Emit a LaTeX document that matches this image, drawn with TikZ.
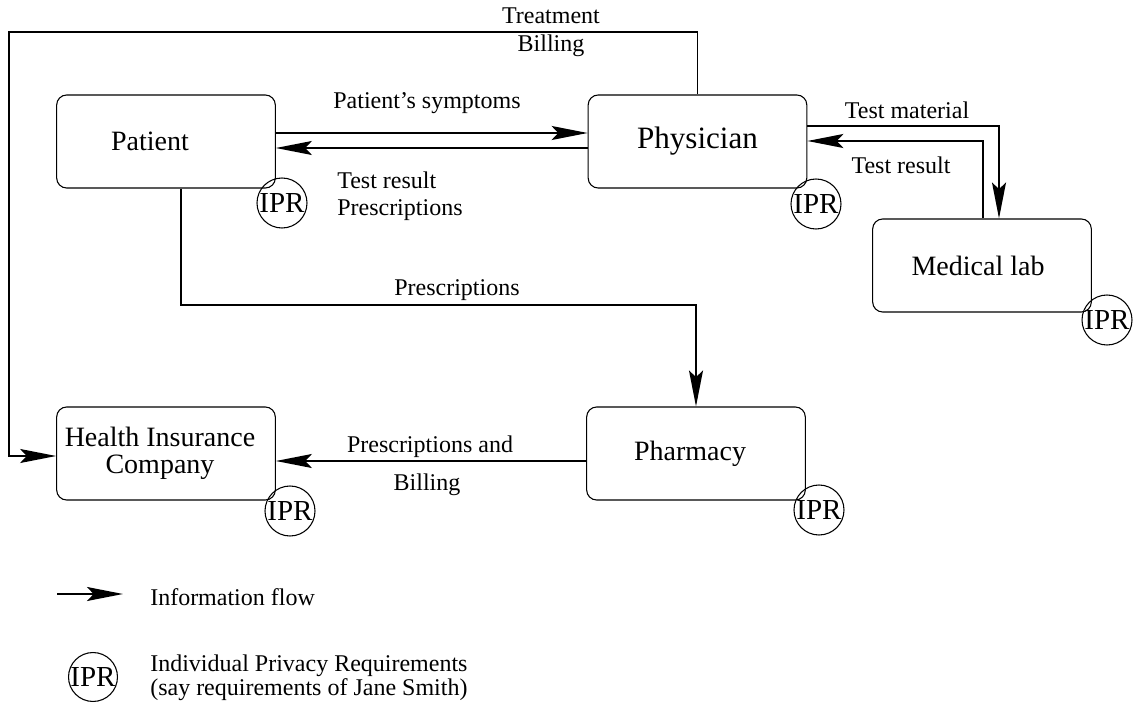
\documentclass[tikz,border=0pt]{standalone}
\usepackage{fontspec}
\setmainfont{Liberation Serif}
\usetikzlibrary{arrows.meta}
\tikzset{
  box/.style={draw, line width=0.8pt, rounded corners=7.5pt, minimum width=164pt, minimum height=69.75pt, inner sep=0pt, font=\fontsize{21}{20.25}\selectfont, align=center},
  flow/.style={line width=1.4pt, -{Stealth[length=27pt, width=10.5pt, inset=5pt]}},
  ipr/.style={draw, circle, line width=0.8pt, minimum size=37.5pt, inner sep=0pt, font=\fontsize{21.75}{22}\selectfont},
  lbl/.style={inner sep=0pt, font=\fontsize{18}{22.5}\selectfont},
}
\begin{document}
\begin{tikzpicture}[x=0.75pt, y=-0.75pt]
\useasboundingbox (0,0) rectangle (1135,709);
% boxes
\node[box] (patient) at (166,141.5) {Patient\hspace*{24pt}};
\node[box, font=\fontsize{23.3}{24}\selectfont] (physician) at (697.5,141.5) {Physician};
\node[box] (lab) at (982,265.5) {Medical lab\hspace*{6pt}};
\node[box] (insurance) at (166,453.5) {Health Insurance\hspace*{9pt}\\Company\hspace*{9pt}};
\node[box] (pharmacy) at (696,453.5) {Pharmacy\hspace*{9pt}};
% IPR circles
\node[ipr] (iprpatient) at (282,203) {IPR};
\node[ipr] (iprphysician) at (816,204) {IPR};
\node[ipr] (iprlab) at (1107,320) {IPR};
\node[ipr] (iprinsurance) at (290,511) {IPR};
\node[ipr] (iprpharmacy) at (819,510) {IPR};
% connectors
\draw[flow] (patient.east |- 0,133) -- (physician.west |- 0,133);
\draw[flow] (physician.west |- 0,148) -- (patient.east |- 0,148);
\draw[flow] (physician.north) |- (9,32) |- (insurance.west |- 0,456);
\draw[flow] (patient.south -| 181,0) |- (pharmacy.north |- 0,305) -- (pharmacy.north);
\draw[flow] (physician.east |- 0,126) -| (lab.north -| 999,0);
\draw[flow] (lab.north -| 983,0) |- (physician.east |- 0,141);
\draw[flow] (pharmacy.west |- 0,461) -- (insurance.east |- 0,461);
% labels
\node[lbl] (ltreat) at (551,16) {Treatment};
\node[lbl] (lbill) at (551,46) {Billing};
\node[lbl] (lsympt) at (427,103) {Patient's symptoms};
\node[lbl, anchor=west] (ltest) at (337,180) {Test result};
\node[lbl, anchor=west] (lpres) at (337,210) {Prescriptions};
\node[lbl] (lpres2) at (457,290) {Prescriptions};
\node[lbl] (lmat) at (907,110) {Test material};
\node[lbl] (ltest2) at (901,165) {Test result};
\node[lbl] (lpresand) at (430,447) {Prescriptions and};
\node[lbl] (lbill2) at (427,485) {Billing};
% legend
\coordinate (legA) at (57,594);
\coordinate (legB) at (123,594);
\draw[flow] (legA) -- (legB);
\node[lbl, anchor=west] (leginfo) at (150,597) {Information flow};
\node[ipr, minimum size=35pt] (legipr) at (93,677) {IPR};
\node[lbl, anchor=west] (legind) at (150,666) {Individual Privacy Requirements};
\node[lbl, anchor=west] (legsay) at (150,690) {(say requirements of Jane Smith)};
\end{tikzpicture}
\end{document}
